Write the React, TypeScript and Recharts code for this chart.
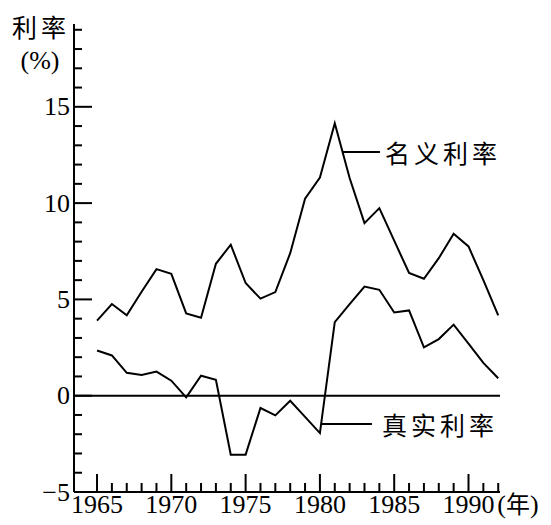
import React from 'react';
import { LineChart, Line, XAxis, YAxis, ReferenceLine } from 'recharts';

const years = [
  1965, 1966, 1967, 1968, 1969, 1970, 1971, 1972, 1973, 1974, 1975, 1976, 1977, 1978,
  1979, 1980, 1981, 1982, 1983, 1984, 1985, 1986, 1987, 1988, 1989, 1990, 1991, 1992,
];
const nominalRate = [
  3.9, 4.76, 4.17, 5.4, 6.57, 6.33, 4.27, 4.05, 6.85, 7.84, 5.85, 5.04, 5.38, 7.4,
  10.23, 11.33, 14.15, 11.3, 8.96, 9.74, 8.05, 6.37, 6.07, 7.14, 8.41, 7.75, 6.0, 4.17,
];
const realRate = [
  2.35, 2.09, 1.19, 1.07, 1.25, 0.78, -0.09, 1.04, 0.83, -3.06, -3.06, -0.64, -1.02, -0.26,
  -1.1, -1.94, 3.82, 4.75, 5.67, 5.5, 4.32, 4.43, 2.51, 2.94, 3.69, 2.7, 1.7, 0.91,
];
const yTicks = [-5, -4, -3, -2, -1, 0, 1, 2, 3, 4, 5, 6, 7, 8, 9, 10, 11, 12, 13, 14, 15, 16, 17, 18, 19];
const yLabels: Record<number, string> = { '-5': '−5', 0: '0', 5: '5', 10: '10', 15: '15' };

const data = years.map((year, i) => ({ year, nominal: nominalRate[i], real: realRate[i] }));

const SERIF = '"Liberation Serif", "Times New Roman", "DejaVu Serif", serif';
const CJK = '"Noto Sans CJK SC", sans-serif';

const serifText = { fontFamily: SERIF, fontSize: 26 };
const cjkText = { fontFamily: CJK, fontSize: 25, letterSpacing: 4 };

const YTick = (props: any) => {
  const { x, y, payload } = props;
  const major = payload.value % 5 === 0;
  const label = yLabels[payload.value];
  return (
    <g>
      <line x1={x} x2={x + (major ? 18 : 8)} y1={y} y2={y} stroke="#000" strokeWidth={2} />
      {label && (
        <text x={x - 4} y={y} textAnchor="end" dominantBaseline="central" style={serifText} fill="#000">
          {label}
        </text>
      )}
    </g>
  );
};

const XTick = (props: any) => {
  const { x, y, payload } = props;
  const major = payload.value % 5 === 0;
  return (
    <g>
      <line x1={x} x2={x} y1={y} y2={y - (major ? 18 : 9)} stroke="#000" strokeWidth={2} />
      {major && (
        <text x={x} y={y + 21} textAnchor="middle" style={serifText} fill="#000">
          {payload.value}
        </text>
      )}
      {payload.value === 1992 && (
        <text x={x - 1} y={y + 21} textAnchor="start" style={serifText} fill="#000">
          (<tspan style={{ fontFamily: CJK, fontSize: 24 }}>年</tspan>)
        </text>
      )}
    </g>
  );
};

const AxisTitle = (props: any) => {
  const { viewBox } = props;
  return (
    <g>
      <text x={viewBox.x + 12} y={viewBox.y + 13} style={cjkText} fill="#000">
        利率
      </text>
      <text x={viewBox.x + 40} y={viewBox.y + 45} textAnchor="middle" style={serifText} fill="#000">
        (%)
      </text>
    </g>
  );
};

const SeriesLabel = (props: any) => {
  const { viewBox, text, gap } = props;
  return (
    <text x={viewBox.x + viewBox.width + gap} y={viewBox.y} dominantBaseline="central" style={cjkText} fill="#000">
      {text}
    </text>
  );
};

export default function App() {
  return (
    <div style={{ position: 'absolute', left: 0, top: 0, background: '#fff' }}>
      <LineChart width={551} height={525} data={data} margin={{ top: 24, right: 51, bottom: 0, left: 0 }}>
        <XAxis
          dataKey="year"
          type="number"
          domain={[1963.45, 1992.12]}
          ticks={years}
          interval={0}
          allowDataOverflow
          height={33}
          tickSize={0}
          tickMargin={0}
          tickLine={false}
          axisLine={{ stroke: '#000', strokeWidth: 2 }}
          tick={<XTick />}
        />
        <YAxis
          type="number"
          domain={[-5, 19.3]}
          ticks={yTicks}
          interval={0}
          allowDataOverflow
          width={74}
          tickSize={0}
          tickMargin={0}
          tickLine={false}
          axisLine={{ stroke: '#000', strokeWidth: 2 }}
          tick={<YTick />}
          label={<AxisTitle />}
        />
        <ReferenceLine y={0} stroke="#000" strokeWidth={2} />
        <ReferenceLine
          segment={[{ x: 1981.55, y: 12.65 }, { x: 1984.04, y: 12.65 }]}
          stroke="#000"
          strokeWidth={2}
          label={<SeriesLabel text="名义利率" gap={5} />}
        />
        <ReferenceLine
          segment={[{ x: 1980.08, y: -1.47 }, { x: 1983.5, y: -1.47 }]}
          stroke="#000"
          strokeWidth={2}
          label={<SeriesLabel text="真实利率" gap={10} />}
        />
        <Line type="linear" dataKey="nominal" stroke="#000" strokeWidth={2} dot={false} isAnimationActive={false} />
        <Line type="linear" dataKey="real" stroke="#000" strokeWidth={2} dot={false} isAnimationActive={false} />
      </LineChart>
    </div>
  );
}
